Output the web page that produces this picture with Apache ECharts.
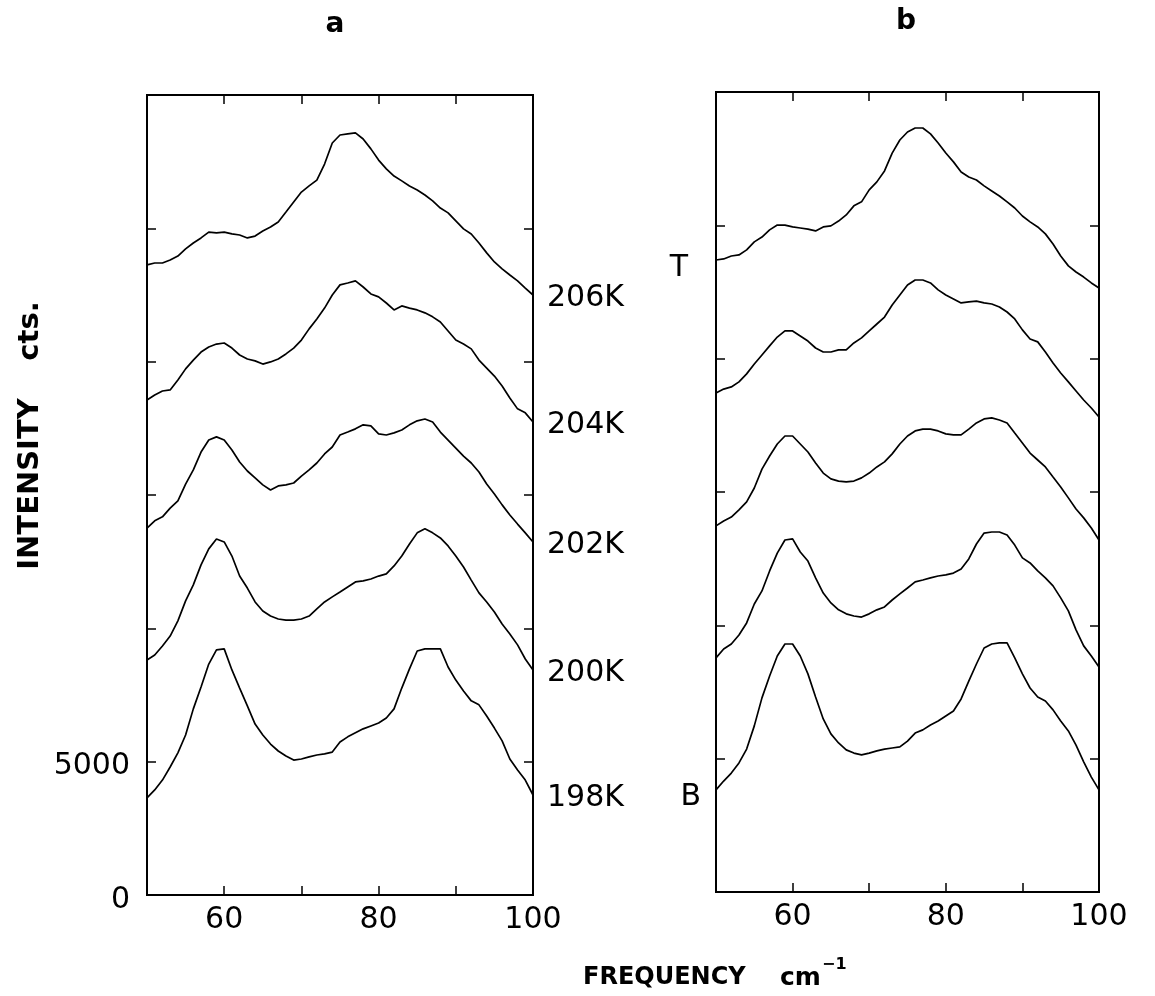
<!DOCTYPE html>
<html><head><meta charset="utf-8">
<script src="https://cdn.jsdelivr.net/npm/echarts@6/dist/echarts.min.js"></script>
<style>html,body{margin:0;padding:0;background:#fff}#c{width:1155px;height:996px}</style>
</head><body><div id="c"></div>
<script>
// x positions (cm^-1)
const frequency = [50,51,52,53,54,55,56,57,58,59,60,61,62,63,64,65,66,67,68,69,70,71,72,73,74,75,76,77,78,79,80,81,82,83,84,85,86,87,88,89,90,91,92,93,94,95,96,97,98,99,100];

// Panel a (temperature series), intensity in counts
const a206 = [23630,23700,23700,23810,23960,24230,24450,24640,24860,24830,24860,24790,24750,24640,24710,24900,25050,25240,25610,25990,26360,26590,26810,27410,28200,28500,28540,28580,28350,27980,27560,27230,26960,26780,26590,26440,26250,26030,25760,25580,25280,24980,24790,24450,24080,23740,23480,23250,23030,22760,22500];
const a204 = [18560,18750,18900,18940,19310,19730,20060,20360,20550,20660,20700,20510,20250,20100,20030,19910,19990,20100,20290,20510,20810,21230,21600,22010,22500,22880,22950,23030,22800,22540,22430,22200,21940,22090,22010,21940,21830,21680,21490,21150,20810,20660,20480,20060,19760,19460,19090,18640,18230,18080,17740];
const a202 = [13760,14030,14180,14510,14780,15410,15940,16610,17060,17180,17060,16690,16240,15900,15640,15380,15190,15340,15380,15450,15710,15940,16200,16540,16800,17250,17360,17480,17630,17590,17290,17250,17330,17440,17630,17780,17850,17740,17360,17060,16760,16460,16200,15860,15410,15040,14630,14250,13910,13580,13240];
const a200 = [8810,9000,9340,9710,10280,11030,11630,12380,12980,13350,13240,12710,11960,11510,10990,10650,10460,10350,10310,10310,10350,10460,10730,10990,11180,11360,11550,11740,11780,11850,11960,12040,12340,12710,13160,13580,13730,13580,13390,13090,12710,12300,11810,11330,10990,10610,10160,9790,9380,8850,8440];
const a198 = [3640,3940,4310,4800,5330,6000,6980,7800,8660,9190,9230,8440,7760,7090,6410,6000,5660,5400,5210,5060,5100,5180,5250,5290,5360,5740,5930,6080,6230,6340,6450,6640,6980,7760,8480,9150,9230,9230,9230,8550,8060,7650,7280,7130,6710,6260,5780,5100,4690,4310,3750];
const seriesNamesA = ['206K','204K','202K','200K','198K'];

// Panel b (top T to bottom B)
const bT = [23700,23740,23850,23890,24080,24380,24560,24830,25010,25010,24940,24900,24860,24790,24940,24980,25160,25390,25730,25880,26330,26630,27040,27710,28200,28500,28650,28650,28430,28090,27710,27380,27000,26810,26700,26480,26290,26100,25880,25650,25350,25130,24940,24680,24300,23850,23480,23250,23060,22840,22650];
const b2 = [18710,18860,18940,19130,19430,19800,20140,20480,20810,21040,21040,20850,20660,20400,20250,20250,20330,20330,20590,20780,21040,21300,21560,22010,22390,22760,22950,22950,22840,22580,22390,22240,22090,22130,22160,22090,22050,21940,21750,21490,21080,20740,20630,20250,19840,19460,19130,18790,18450,18150,17810];
const b3 = [13730,13910,14060,14330,14630,15150,15860,16350,16800,17100,17100,16800,16500,16090,15710,15490,15410,15380,15410,15530,15710,15940,16130,16430,16800,17100,17290,17360,17360,17290,17180,17140,17140,17360,17590,17740,17780,17700,17590,17210,16840,16460,16200,15940,15560,15190,14780,14360,14030,13650,13200];
const b4 = [8780,9110,9300,9640,10090,10800,11290,12040,12710,13200,13240,12750,12410,11780,11210,10840,10580,10430,10350,10310,10430,10580,10690,10950,11180,11400,11630,11700,11780,11850,11890,11960,12110,12490,13050,13460,13500,13500,13390,13010,12530,12340,12040,11780,11480,11030,10540,9830,9230,8850,8440];
const bB = [3830,4160,4460,4840,5360,6230,7280,8100,8850,9300,9300,8850,8180,7310,6490,5930,5590,5330,5210,5140,5210,5290,5360,5400,5440,5660,5960,6080,6260,6410,6600,6790,7240,7910,8550,9150,9300,9340,9340,8780,8180,7650,7310,7160,6830,6410,6040,5510,4880,4310,3830];
const seriesNamesB = ['T','b2','b3','b4','B'];

// Tick labels and texts
const xTickLabels = [60, 80, 100];
const yTickLabels = [0, 5000];
const panelTitles = ['a', 'b'];
const xTitle = 'FREQUENCY', xUnit = 'cm', xUnitExp = '\u22121';
const yTitle = 'INTENSITY', yUnit = 'cts.';

const FONT = 'DejaVu Sans';
const chart = echarts.init(document.getElementById('c'), null, {renderer: 'canvas'});

const tickStyle = {show: true, inside: true, length: 9, lineStyle: {color: '#000', width: 1.5}};
function xAx(grid, pos, labels) {
  return {type: 'value', gridIndex: grid, position: pos, min: 50, max: 100, interval: 10,
    axisLine: {show: false, onZero: false}, splitLine: {show: false}, axisTick: tickStyle,
    axisLabel: {show: labels, margin: 10, color: '#000', fontFamily: FONT, fontSize: 30,
      formatter: v => xTickLabels.includes(v) ? String(v) : ''}};
}
function yAx(grid, pos, labels) {
  return {type: 'value', gridIndex: grid, position: pos, min: 0, max: 30000, interval: 5000,
    axisLine: {show: false, onZero: false}, splitLine: {show: false}, axisTick: tickStyle,
    axisLabel: {show: labels, margin: 17, color: '#000',
      formatter: v => yTickLabels.includes(v) ? '{n|' + v + '}' : '',
      rich: {n: {fontFamily: FONT, fontSize: 30, color: '#000', padding: [10, 0, 0, 0]}}}};
}

const series = [];
[a206, a204, a202, a200, a198].forEach((vals, i) => {
  series.push({type: 'line', name: seriesNamesA[i], xAxisIndex: 0, yAxisIndex: 0,
    data: frequency.map((f, j) => [f, vals[j]]), symbol: 'none', showSymbol: false, silent: true,
    lineStyle: {color: '#000', width: 1.7},
    endLabel: {show: true, formatter: '{a}', distance: 14, offset: [0, 3], color: '#000', fontFamily: FONT, fontSize: 30}});
});
[bT, b2, b3, b4, bB].forEach((vals, i) => {
  series.push({type: 'line', name: seriesNamesB[i], xAxisIndex: 2, yAxisIndex: 2,
    data: frequency.map((f, j) => [f, vals[j]]), symbol: 'none', showSymbol: false, silent: true,
    lineStyle: {color: '#000', width: 1.7}});
});

chart.setOption({
  animation: false,
  backgroundColor: '#fff',
  grid: [
    {left: 147, top: 95, width: 386, height: 800, show: true, borderColor: '#000', borderWidth: 2, backgroundColor: 'transparent'},
    {left: 716, top: 92, width: 383, height: 800, show: true, borderColor: '#000', borderWidth: 2, backgroundColor: 'transparent'}
  ],
  xAxis: [xAx(0, 'bottom', true), xAx(0, 'top', false), xAx(1, 'bottom', true), xAx(1, 'top', false)],
  yAxis: [yAx(0, 'left', true), yAx(0, 'right', false), yAx(1, 'left', false), yAx(1, 'right', false)],
  series: series
});

const pT = chart.convertToPixel({xAxisIndex: 2, yAxisIndex: 2}, [frequency[0], bT[0]]);
const pB = chart.convertToPixel({xAxisIndex: 2, yAxisIndex: 2}, [frequency[0], bB[0]]);
const txt = (x, y, text, size, weight, align, extra) => Object.assign({type: 'text', x: x, y: y, silent: true,
  style: {text: text, fill: '#000', fontFamily: FONT, fontSize: size, fontWeight: weight, align: align || 'center', verticalAlign: 'middle'}}, extra || {});

chart.setOption({
  graphic: [
    txt(335, 25, panelTitles[0], 28, 'bold'),
    txt(906, 22, panelTitles[1], 28, 'bold'),
    txt(30, 484, yTitle, 29, 'bold', 'center', {rotation: Math.PI / 2}),
    txt(30, 331, yUnit, 29, 'bold', 'center', {rotation: Math.PI / 2}),
    txt(583, 978, xTitle, 24, 'bold', 'left'),
    txt(780, 978, xUnit, 25, 'bold', 'left'),
    txt(822, 965, xUnitExp, 16, 'bold', 'left'),
    txt(pT[0] - 28, pT[1] + 8, seriesNamesB[0], 30, 'normal', 'right'),
    txt(pB[0] - 15, pB[1] + 7, seriesNamesB[4], 30, 'normal', 'right')
  ]
});
</script>
</body></html>
